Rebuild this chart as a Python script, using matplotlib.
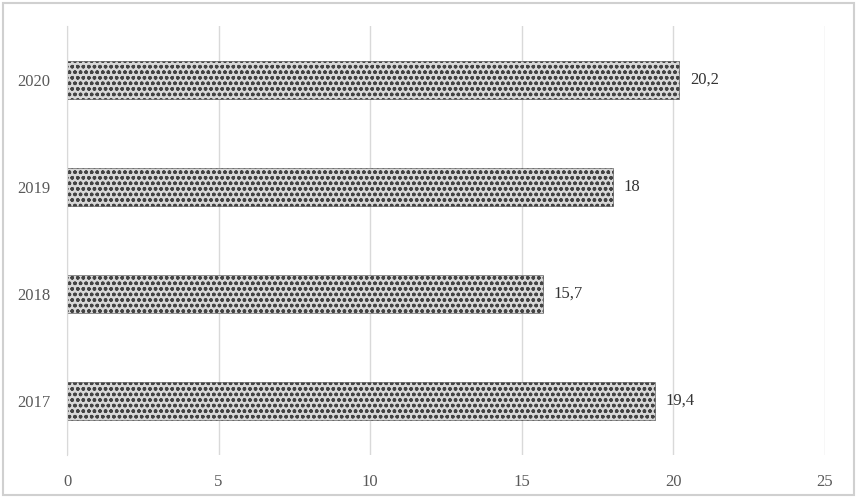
import matplotlib.pyplot as plt
import matplotlib as mpl

years = ["2017", "2018", "2019", "2020"]
values = [19.4, 15.7, 18.0, 20.2]
labels = ["19,4", "15,7", "18", "20,2"]

mpl.rcParams['hatch.linewidth'] = 1.0
mpl.rcParams['hatch.color'] = '#1a1a1a'
plt.rcParams['font.family'] = ['Liberation Serif', 'DejaVu Serif']

fig = plt.figure(figsize=(8.57, 4.99), dpi=100)
ax = fig.add_axes([0.0782, 0.089, 0.8845, 0.858])

ypos = range(len(years))
ax.barh(ypos, values, height=0.36, color='#d8d8d8', edgecolor='#444444',
        linewidth=0.4, hatch='ooo')
for y, v, t in zip(ypos, values, labels):
    ax.text(v + 0.35, y, t, va='center', ha='left', fontsize=12, color='#333333')

ax.set_xlim(0, 25)
ax.set_ylim(-0.5, 3.5)
ax.set_xticks([0, 5, 10, 15, 20, 25])
ax.set_yticks(list(ypos))
ax.set_yticklabels(years)
ax.tick_params(length=0, labelsize=12, labelcolor='#595959', pad=12)
ax.tick_params(axis='x', pad=14)
ax.grid(axis='x', color='#d9d9d9', linewidth=1)
ax.set_axisbelow(True)
for s in ['top', 'right', 'bottom']:
    ax.spines[s].set_visible(False)
ax.spines['left'].set_color('#d9d9d9')

fig.patches.append(mpl.patches.Rectangle((0.004, 0.008), 0.992, 0.986, transform=fig.transFigure,
                                         fill=False, edgecolor='#d0d0d0', linewidth=1.5))
fig.savefig("out.png", dpi=100)
